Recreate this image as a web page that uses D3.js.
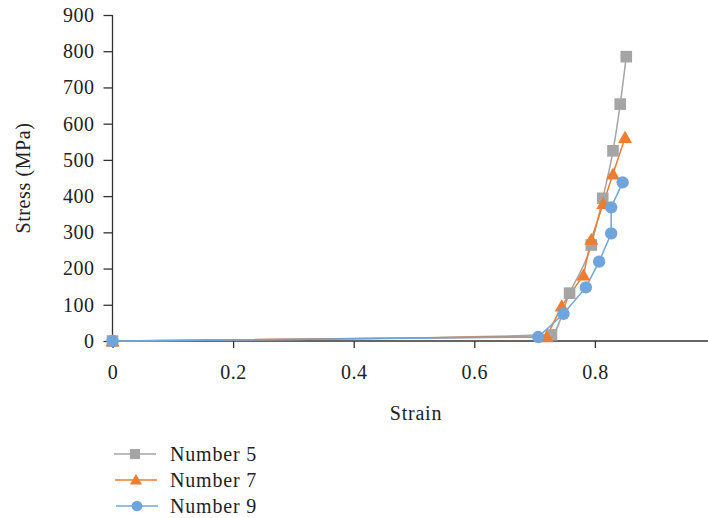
<!DOCTYPE html>
<html><head><meta charset="utf-8">
<script src="https://cdn.jsdelivr.net/npm/d3@7"></script>
<style>body{margin:0;background:#fff}svg{display:block}</style>
</head><body>
<svg id="c" width="708" height="518"></svg>
<script>
const seriesNames = ["Number 5", "Number 7", "Number 9"];
const colors = ["#A5A5A5", "#ED7D31", "#6FA5DB"];
const strain5 = [0, 0.728, 0.758, 0.794, 0.813, 0.830, 0.842, 0.852];
const stress5 = [0, 17, 132, 265, 394, 525, 654, 785];
const strain7 = [0, 0.72, 0.745, 0.781, 0.794, 0.814, 0.830, 0.850];
const stress7 = [0, 12, 97, 182, 281, 380, 461, 562];
const strain9 = [0, 0.706, 0.748, 0.785, 0.807, 0.827, 0.827, 0.846];
const stress9 = [0, 11, 75, 148, 219, 297, 369, 438];
const xTicks = [0, 0.2, 0.4, 0.6, 0.8];
const yTicks = [0, 100, 200, 300, 400, 500, 600, 700, 800, 900];

const svg = d3.select("#c");
const font = "'Liberation Serif', 'Times New Roman', serif";
const fs = 20;
const x = d3.scaleLinear().domain([0, 1]).range([112.5, 715.5]);
const y = d3.scaleLinear().domain([0, 900]).range([341, 15]);

const series = [
  {name: seriesNames[0], color: colors[0], sym: d3.symbolSquare, size: 135, curve: d3.curveMonotoneX, data: strain5.map((v,i)=>[v, stress5[i]])},
  {name: seriesNames[1], color: colors[1], sym: d3.symbolTriangle, size: 85, curve: d3.curveLinear, data: strain7.map((v,i)=>[v, stress7[i]])},
  {name: seriesNames[2], color: colors[2], sym: d3.symbolCircle, size: 120, curve: d3.curveLinear, data: strain9.map((v,i)=>[v, stress9[i]])}
];

// axes
const yAxis = svg.append("g").attr("transform", `translate(${x(0)},0)`)
  .call(d3.axisLeft(y).tickValues(yTicks).tickSize(9).tickPadding(9).tickFormat(d3.format("d")));
const xAxis = svg.append("g").attr("transform", `translate(0,${y(0)})`)
  .call(d3.axisBottom(x).tickValues(xTicks).tickSize(7).tickPadding(17).tickFormat(d => d === 0 ? "0" : d3.format(".1f")(d)));
[xAxis, yAxis].forEach(a => {
  a.attr("font-family", font).attr("font-size", fs);
  a.selectAll("path").attr("stroke", "#333").attr("stroke-width", 1.3);
  a.selectAll("line").attr("stroke", "#333").attr("stroke-width", 1.3);
  a.selectAll("text").attr("font-family", font).attr("font-size", fs).attr("fill", "#222").attr("letter-spacing", 0.5);
});
xAxis.select("path").attr("d", `M${x(0)},0H708`);
yAxis.select("path").attr("d", `M0,${y(900)}V${y(0)}`);

// lines and markers
series.forEach(s => {
  svg.append("path").datum(s.data)
    .attr("fill", "none").attr("stroke", s.color).attr("stroke-width", 1.5)
    .attr("d", d3.line().x(d => x(d[0])).y(d => y(d[1])).curve(s.curve));
});
series.forEach(s => {
  svg.append("g").selectAll("path").data(s.data).join("path")
    .attr("transform", d => `translate(${x(d[0])},${y(d[1]) + (s.sym === d3.symbolTriangle ? 1.5 : 0)})`)
    .attr("d", d3.symbol().type(s.sym).size(s.size))
    .attr("fill", s.color);
});

// axis titles
svg.append("text").attr("x", 416).attr("y", 420).attr("text-anchor", "middle")
  .attr("font-family", font).attr("font-size", fs).attr("letter-spacing", 0.8).attr("fill", "#222").text("Strain");
svg.append("text").attr("transform", "translate(30,178) rotate(-90)").attr("text-anchor", "middle")
  .attr("font-family", font).attr("font-size", fs).attr("letter-spacing", 0.6).attr("fill", "#222").text("Stress (MPa)");

// legend
const leg = svg.append("g");
series.forEach((s, i) => {
  const yy = 454 + i * 26;
  const g = leg.append("g").attr("transform", `translate(0,${yy})`);
  const x0 = 114 + i, x1 = x0 + 42;
  g.append("line").attr("x1", x0).attr("x2", x1).attr("y1", 0).attr("y2", 0)
    .attr("stroke", s.color).attr("stroke-width", 1.5);
  g.append("path").attr("transform", `translate(${(x0 + x1) / 2},${s.sym === d3.symbolTriangle ? 1 : 0})`)
    .attr("d", d3.symbol().type(s.sym).size(s.size * 0.75)).attr("fill", s.color);
  g.append("text").attr("x", 170).attr("y", 6.5).attr("font-family", font).attr("font-size", fs)
    .attr("letter-spacing", 0.8).attr("fill", "#222").text(s.name);
});
</script>
</body></html>
